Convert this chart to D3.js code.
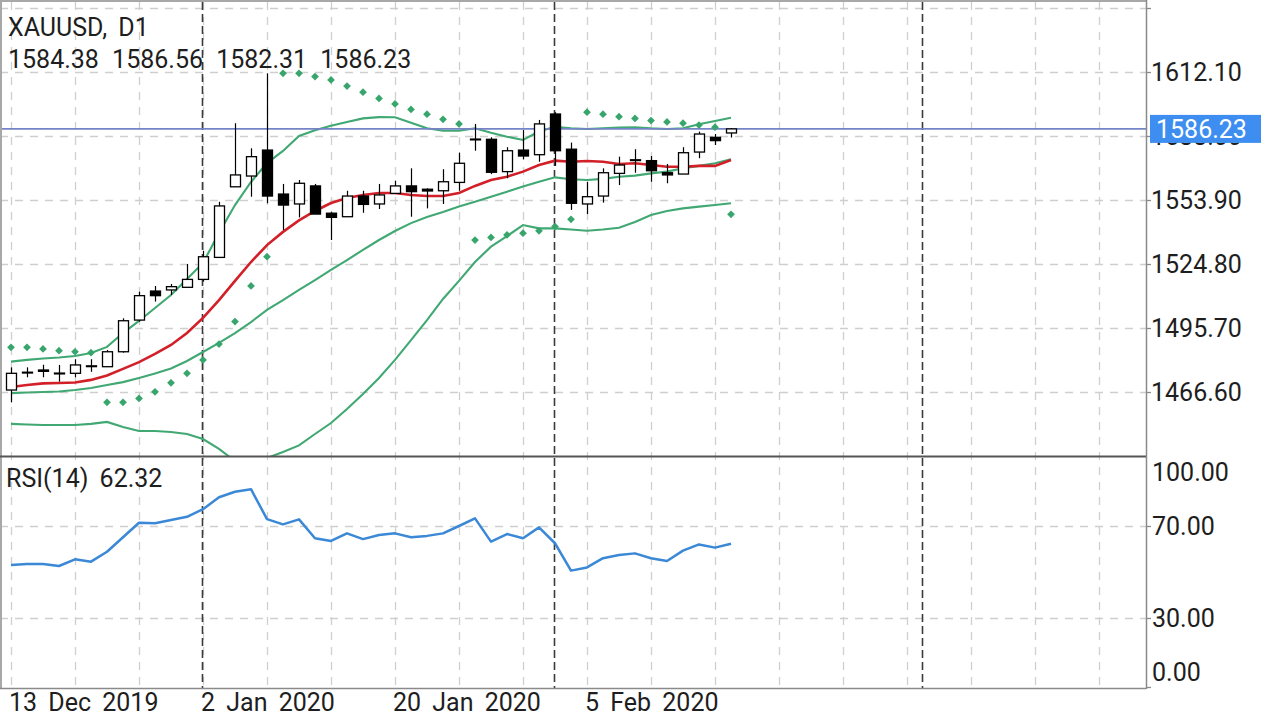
<!DOCTYPE html>
<html><head><meta charset="utf-8">
<script src="https://cdn.jsdelivr.net/npm/d3@7"></script>
<style>
body{margin:0;background:#fff;}
svg{display:block;font-family:Roboto,"DejaVu Sans",sans-serif;}
</style>
</head><body>
<svg id="c" width="1280" height="720"></svg>
<script>
// ---------------- data ----------------
const titleText = "XAUUSD, D1";
const lastOHLC = ["1584.38", "1586.56", "1582.31", "1586.23"];
const rsiTitle = "RSI(14) 62.32";
const currentPrice = 1586.23;

const open  = [1467.5,1475.4,1476.6,1475.2,1475.1,1478.2,1478.1,1484.9,1499.3,1512.5,1513.0,1514.2,1517.8,1527.8,1559.9,1564.8,1576.6,1556.6,1552.1,1560.3,1547.9,1546.3,1555.7,1552.1,1556.9,1560.3,1558.8,1558.1,1561.9,1581.3,1581.5,1566.8,1576.6,1574.5,1593.0,1577.0,1552.1,1555.7,1566.0,1572.0,1571.8,1566.3,1565.7,1575.7,1582.4,1584.38];
const high  = [1477.8,1477.8,1479.0,1478.9,1481.5,1481.5,1485.7,1500.1,1512.2,1514.8,1515.7,1524.8,1530.8,1553.1,1588.8,1577.4,1611.5,1561.2,1563.0,1561.2,1548.6,1558.1,1558.1,1561.2,1562.7,1568.3,1559.2,1567.9,1575.4,1588.5,1582.4,1577.9,1585.7,1590.3,1593.8,1580.0,1562.2,1568.3,1573.6,1577.0,1573.9,1570.3,1577.9,1585.0,1583.9,1586.56];
const low   = [1461.9,1473.3,1473.3,1471.3,1473.3,1475.8,1478.1,1484.5,1498.6,1507.7,1510.7,1514.2,1516.8,1527.8,1559.9,1555.4,1552.4,1540.3,1546.0,1547.5,1535.7,1546.3,1548.1,1549.8,1556.9,1546.3,1550.1,1552.1,1558.1,1576.3,1565.7,1563.8,1572.4,1571.3,1569.4,1549.4,1547.5,1552.7,1560.7,1566.3,1562.2,1561.5,1565.7,1572.9,1578.9,1582.31];
const close = [1475.1,1475.6,1476.0,1475.0,1478.9,1478.5,1484.9,1499.0,1510.4,1510.4,1514.5,1517.8,1528.1,1551.2,1565.3,1573.6,1555.7,1551.6,1561.5,1547.5,1546.0,1555.7,1551.9,1556.2,1560.3,1557.7,1558.0,1562.2,1570.6,1581.6,1566.5,1576.3,1573.9,1588.5,1576.3,1552.4,1555.4,1566.3,1569.8,1572.2,1567.2,1565.3,1575.4,1583.9,1580.9,1586.23];

const bbUpper  = [1480.4,1481.2,1481.8,1482.3,1483.0,1484.3,1487.1,1493.4,1498.9,1504.8,1510.7,1518.0,1525.3,1538.9,1551.6,1562.1,1570.7,1576.2,1583.0,1585.6,1587.7,1589.4,1591.0,1591.6,1591.5,1589.0,1586.5,1585.4,1585.4,1586.5,1584.5,1582.7,1581.2,1585.0,1587.2,1586.5,1586.2,1586.5,1586.8,1587.0,1586.5,1586.2,1586.5,1588.3,1589.8,1591.3];
const bbMiddle = [1466.1,1466.4,1466.6,1466.8,1467.5,1468.4,1469.8,1471.1,1473.0,1475.0,1477.3,1480.7,1484.8,1488.9,1493.4,1498.4,1503.9,1508.4,1513.0,1517.5,1522.1,1526.6,1531.2,1535.7,1539.8,1543.4,1546.2,1548.4,1550.9,1553.1,1555.4,1557.7,1560.0,1562.2,1564.2,1563.3,1563.0,1563.5,1564.5,1565.0,1566.0,1566.8,1568.3,1569.4,1570.6,1572.4];
const bbLower  = [1452.1,1451.8,1451.6,1451.6,1451.6,1452.1,1453.0,1450.7,1448.9,1448.9,1448.4,1447.5,1445.2,1440.7,1435.2,1433.9,1436.6,1439.3,1442.3,1447.5,1452.5,1458.9,1465.7,1473.0,1481.2,1490.2,1499.3,1508.9,1517.1,1525.7,1532.7,1537.5,1542.5,1541.0,1541.0,1540.5,1539.9,1540.5,1541.3,1543.9,1547.1,1548.9,1550.1,1550.9,1551.6,1552.4];
const maLine   = [1468.9,1469.8,1470.5,1470.7,1470.9,1472.1,1474.1,1477.1,1480.2,1483.9,1488.0,1493.4,1500.3,1508.4,1517.1,1525.7,1533.4,1539.4,1544.6,1548.9,1552.5,1554.8,1556.2,1557.1,1557.1,1556.2,1555.7,1555.7,1557.1,1560.3,1563.0,1564.5,1566.8,1569.8,1571.8,1571.3,1571.6,1571.3,1570.3,1570.6,1569.8,1569.0,1569.0,1569.4,1569.4,1572.1];
const sar      = [1486.9,1486.9,1486.2,1485.4,1484.9,1484.5,1461.9,1461.9,1463.7,1466.7,1470.8,1475.1,1481.2,1488.4,1498.6,1514.8,1528.1,1611.5,1611.5,1610.0,1608.5,1605.7,1602.9,1600.1,1597.6,1595.1,1592.9,1590.6,1588.5,1535.7,1536.9,1538.0,1538.8,1539.9,1541.8,1545.1,1593.8,1592.9,1591.8,1591.0,1590.0,1589.4,1588.8,1588.0,1587.0,1547.4];
const rsi      = [53.0,53.5,53.5,52.6,55.5,54.5,58.8,65.1,71.4,71.2,72.6,74.0,77.3,82.5,84.9,86.0,73.0,70.7,72.9,64.7,63.5,66.8,64.3,66.1,66.8,65.1,65.7,66.8,70.0,73.3,63.2,66.5,64.7,69.4,62.5,50.6,52.0,56.0,57.4,58.1,56.0,54.8,59.3,62.0,60.6,62.32];

const dateTickLabels = ["13 Dec 2019", "2 Jan 2020", "20 Jan 2020", "5 Feb 2020"];
const dateTickIndex  = [0, 12, 24, 36];
const separatorIndex = [12, 34, 57];
const priceTicks = [1641.20, 1612.10, 1583.00, 1553.90, 1524.80, 1495.70, 1466.60];
const rsiTicks = [100, 70, 30, 0];
const rsiGrid = [70, 30];

// ---------------- layout ----------------
const plotL = 0, plotR = 1146;
const mainTop = 2, mainBot = 456;
const rsiTop = 458, rsiBot = 688;
const FS = 25;

const svg = d3.select("#c");
const x = d3.scaleLinear().domain([-0.6875, 70.9375]).range([plotL, plotR]);
const y = d3.scaleLinear().domain([1466.6, 1612.1]).range([392, 72]);
const yR = d3.scaleLinear().domain([0, 100]).range([687, 457]);
const idx = d3.range(close.length);

const defs = svg.append("defs");
defs.append("clipPath").attr("id","clipMain").append("rect")
  .attr("x", plotL).attr("y", mainTop).attr("width", plotR - plotL).attr("height", mainBot - mainTop);
defs.append("clipPath").attr("id","clipRsi").append("rect")
  .attr("x", plotL).attr("y", rsiTop).attr("width", plotR - plotL).attr("height", rsiBot - rsiTop);

// grid: vertical
const gridG = svg.append("g");
const vGrid = d3.range(0, 71, 4).filter(i => x(i) < plotR);
gridG.selectAll("line.vg").data(vGrid).join("line")
  .attr("x1", d => x(d) + 0.5).attr("x2", d => x(d) + 0.5)
  .attr("y1", mainTop).attr("y2", rsiBot)
  .attr("stroke", "#cfcfcf").attr("stroke-width", 1.3).attr("stroke-dasharray", "8,7");
gridG.selectAll("line.hg").data(priceTicks).join("line")
  .attr("x1", plotL).attr("x2", plotR)
  .attr("y1", d => Math.round(y(d)) + 0.5).attr("y2", d => Math.round(y(d)) + 0.5)
  .attr("stroke", "#cfcfcf").attr("stroke-width", 1.3).attr("stroke-dasharray", "8,7");
gridG.selectAll("line.rg").data(rsiGrid).join("line")
  .attr("x1", plotL).attr("x2", plotR)
  .attr("y1", d => Math.round(yR(d)) + 0.5).attr("y2", d => Math.round(yR(d)) + 0.5)
  .attr("stroke", "#cfcfcf").attr("stroke-width", 1.3).attr("stroke-dasharray", "8,7");
gridG.selectAll("line.sep").data(separatorIndex).join("line")
  .attr("x1", d => x(d) - 0.5).attr("x2", d => x(d) - 0.5)
  .attr("y1", mainTop).attr("y2", rsiBot)
  .attr("stroke", "#3a3a3a").attr("stroke-width", 1.6).attr("stroke-dasharray", "8,4");

// ---------------- main panel ----------------
const main = svg.append("g").attr("clip-path", "url(#clipMain)");
const green = "#41a873";
const lineOf = arr => d3.line().x((d, i) => x(i)).y(d => y(d))(arr);
[bbUpper, bbMiddle, bbLower].forEach(arr => {
  main.append("path").attr("d", lineOf(arr)).attr("fill", "none")
    .attr("stroke", green).attr("stroke-width", 2.1);
});
main.append("path").attr("d", lineOf(maLine)).attr("fill", "none")
  .attr("stroke", "#d21f28").attr("stroke-width", 2.6);

main.append("line").attr("x1", plotL).attr("x2", plotR)
  .attr("y1", y(currentPrice)).attr("y2", y(currentPrice))
  .attr("stroke", "#7584c6").attr("stroke-width", 1.6);

// candles
const bw = 10;
const cg = main.append("g");
cg.selectAll("line.wick").data(idx).join("line")
  .attr("x1", i => Math.round(x(i)) + 0.5).attr("x2", i => Math.round(x(i)) + 0.5)
  .attr("y1", i => y(high[i])).attr("y2", i => y(low[i]))
  .attr("stroke", "#000").attr("stroke-width", 1.2);
cg.selectAll("rect.body").data(idx).join("rect")
  .attr("x", i => Math.round(x(i)) - bw / 2 + 0.5)
  .attr("width", bw)
  .attr("y", i => y(Math.max(open[i], close[i])))
  .attr("height", i => Math.max(0.8, Math.abs(y(open[i]) - y(close[i]))))
  .attr("fill", i => close[i] >= open[i] ? "#fff" : "#000")
  .attr("stroke", "#000").attr("stroke-width", 1.3);

// SAR diamonds
main.selectAll("path.sar").data(idx).join("path")
  .attr("d", d3.symbol(d3.symbolSquare, 30)())
  .attr("transform", i => `translate(${x(i)},${y(sar[i])}) rotate(45)`)
  .attr("fill", "#38a66c");

// ---------------- RSI panel ----------------
const rg = svg.append("g").attr("clip-path", "url(#clipRsi)");
rg.append("path")
  .attr("d", d3.line().x((d, i) => x(i)).y(d => yR(d))(rsi))
  .attr("fill", "none").attr("stroke", "#3a88d6").attr("stroke-width", 2.5)
  .attr("stroke-linejoin", "round");

// ---------------- frame ----------------
svg.append("line").attr("x1", 0).attr("x2", plotR).attr("y1", 1).attr("y2", 1)
  .attr("stroke", "#a8a8a8").attr("stroke-width", 2);
svg.append("line").attr("x1", 1).attr("x2", 1).attr("y1", 0).attr("y2", rsiBot)
  .attr("stroke", "#a8a8a8").attr("stroke-width", 2);
svg.append("line").attr("x1", 0).attr("x2", plotR).attr("y1", 456.5).attr("y2", 456.5)
  .attr("stroke", "#555").attr("stroke-width", 2);
svg.append("line").attr("x1", 0).attr("x2", plotR).attr("y1", rsiBot + 0.5).attr("y2", rsiBot + 0.5)
  .attr("stroke", "#8a8a8a").attr("stroke-width", 1.5);
svg.append("line").attr("x1", plotR + 0.5).attr("x2", plotR + 0.5).attr("y1", 0).attr("y2", rsiBot + 1)
  .attr("stroke", "#8a8a8a").attr("stroke-width", 1.5);

// ---------------- axes ----------------
const txtColor = "#1e1e1e";
const axG = svg.append("g").attr("font-size", FS).attr("fill", txtColor).attr("word-spacing", "5px");

priceTicks.forEach(v => {
  const yy = Math.round(y(v)) + 0.5;
  axG.append("line").attr("x1", plotR).attr("x2", plotR + 5).attr("y1", yy).attr("y2", yy)
    .attr("stroke", "#8a8a8a").attr("stroke-width", 1.3);
});
priceTicks.filter(v => y(v) > 30).forEach(v => {
  axG.append("text").attr("x", plotR + 5).attr("y", y(v)).attr("dy", "0.36em")
    .text(d3.format(".2f")(v));
});
rsiTicks.forEach(v => {
  const yy = Math.round(yR(v)) + 0.5;
  if (v !== 100) axG.append("line").attr("x1", plotR).attr("x2", plotR + 5).attr("y1", yy).attr("y2", yy)
    .attr("stroke", "#8a8a8a").attr("stroke-width", 1.3);
  const ly = v === 100 ? yR(v) + 15 : (v === 0 ? yR(v) - 15 : yR(v));
  axG.append("text").attr("x", plotR + 6).attr("y", ly).attr("dy", "0.36em")
    .text(d3.format(".2f")(v));
});

// current price label
const cpy = y(currentPrice);
svg.append("rect").attr("x", 1150).attr("y", cpy - 14).attr("width", 111).attr("height", 28)
  .attr("fill", "#3d8ef0");
svg.append("text").attr("x", 1156).attr("y", cpy).attr("dy", "0.36em")
  .attr("font-size", FS).attr("fill", "#fff").text(d3.format(".2f")(currentPrice));

// date axis
dateTickIndex.forEach((di, k) => {
  axG.append("text").attr("x", x(di) - 2).attr("y", 711).text(dateTickLabels[k]);
});

// titles
axG.append("text").attr("x", 8).attr("y", 36).text(titleText);
axG.append("text").attr("x", 8).attr("y", 68).attr("word-spacing", "7px").text(lastOHLC.join(" "));
axG.append("text").attr("x", 6).attr("y", 487).text(rsiTitle);
</script>
</body></html>
